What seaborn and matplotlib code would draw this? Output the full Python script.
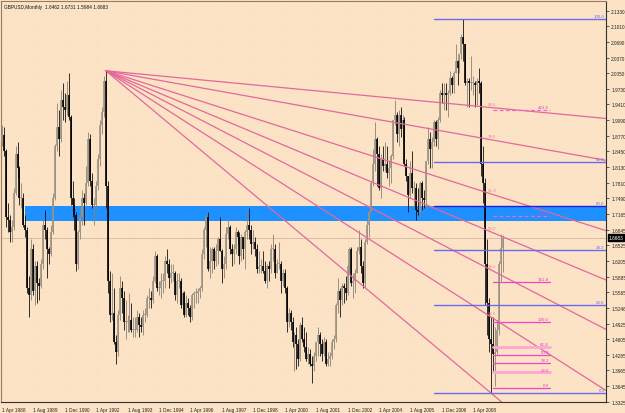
import numpy as np
import pandas as pd
import matplotlib
matplotlib.use("Agg")
import matplotlib.pyplot as plt
import seaborn as sns
from matplotlib.transforms import blended_transform_factory

# ---------------- data (GBPUSD monthly, Apr 1988 - Jul 2009) ----------------
months = pd.period_range("1988-04", "2009-07", freq="M")
first_open = 1.8650
closes = [
    1.8780, 1.8450, 1.7100, 1.7050, 1.6800, 1.6900, 1.7600, 1.8400, 1.8100,
    1.7500, 1.7500, 1.6950, 1.6850, 1.5650, 1.5500, 1.6450, 1.5600, 1.6100, 1.5750, 1.5700, 1.6150,
    1.6950, 1.6850, 1.6450, 1.6350, 1.6800, 1.7500, 1.8550, 1.8950, 1.8700, 1.9500, 1.9350, 1.9300,
    1.9600, 1.9150, 1.7500, 1.7350, 1.7150, 1.6150, 1.6800, 1.7100, 1.7500, 1.7400, 1.7800, 1.8700,
    1.7850, 1.7350, 1.7350, 1.7750, 1.8300, 1.9000, 1.9250, 1.9900, 1.7750, 1.5800, 1.5100, 1.5150,
    1.4550, 1.4350, 1.5100, 1.5650, 1.5450, 1.4950, 1.4950, 1.4950, 1.5000, 1.4800, 1.4800, 1.4800,
    1.5050, 1.4900, 1.4850, 1.5100, 1.5100, 1.5450, 1.5450, 1.5400, 1.5800, 1.6300, 1.5650, 1.5650,
    1.5800, 1.5800, 1.6200, 1.6150, 1.5850, 1.5950, 1.5950, 1.5500, 1.5800, 1.5800, 1.5300, 1.5550,
    1.5100, 1.5350, 1.5250, 1.5050, 1.5500, 1.5550, 1.5550, 1.5600, 1.5650, 1.6350, 1.6850, 1.7100,
    1.6050, 1.6200, 1.6450, 1.6200, 1.6400, 1.6650, 1.6400, 1.6050, 1.6150, 1.6750, 1.6900, 1.6450,
    1.6350, 1.6450, 1.6800, 1.6700, 1.6300, 1.6700, 1.6450, 1.6800, 1.6950, 1.6850, 1.6550, 1.6600,
    1.6450, 1.6050, 1.6100, 1.6100, 1.6000, 1.5800, 1.6100, 1.6050, 1.6450, 1.6450, 1.5950, 1.6150,
    1.6150, 1.5800, 1.5950, 1.5650, 1.4950, 1.5150, 1.4950, 1.4550, 1.4700, 1.4500, 1.4200, 1.4900,
    1.4600, 1.4450, 1.4200, 1.4300, 1.4100, 1.4050, 1.4250, 1.4550, 1.4700, 1.4500, 1.4300, 1.4550,
    1.4100, 1.4200, 1.4250, 1.4550, 1.4600, 1.5300, 1.5600, 1.5400, 1.5700, 1.5650, 1.5550, 1.6100,
    1.6450, 1.5750, 1.5800, 1.5950, 1.6400, 1.6500, 1.6100, 1.5750, 1.6600, 1.6950, 1.7200, 1.7800,
    1.8200, 1.8700, 1.8400, 1.7700, 1.8300, 1.8150, 1.8200, 1.8000, 1.8100, 1.8350, 1.9100, 1.9200,
    1.8800, 1.9200, 1.8900, 1.9100, 1.8200, 1.7950, 1.7550, 1.8000, 1.7700, 1.7700, 1.7250, 1.7200,
    1.7800, 1.7500, 1.7450, 1.8250, 1.8700, 1.8500, 1.8650, 1.9050, 1.8700, 1.9100, 1.9650, 1.9600,
    1.9650, 1.9600, 1.9650, 1.9950, 1.9800, 2.0050, 2.0300, 2.0150, 2.0450, 2.0800, 2.0650, 1.9850,
    1.9900, 1.9850, 1.9850, 1.9850, 1.9800, 1.9900, 1.9850, 1.8200, 1.7800, 1.6150, 1.5350, 1.4600,
    1.4500, 1.4300, 1.4350, 1.4800, 1.6150, 1.6462, 1.6683,
]
highs = [
    1.9000, 1.8950, 1.8500, 1.7400, 1.7150, 1.7050, 1.7700, 1.8550, 1.8650,
    1.8150, 1.7800, 1.7600, 1.7150, 1.6900, 1.5900, 1.6650, 1.6550, 1.6200, 1.6200, 1.5850, 1.6250,
    1.7050, 1.7250, 1.6900, 1.6500, 1.6950, 1.7600, 1.8600, 1.9450, 1.9300, 1.9700, 1.9850, 1.9650,
    1.9900, 2.0050, 1.9200, 1.7850, 1.7500, 1.7200, 1.6850, 1.7300, 1.7650, 1.7600, 1.8150, 1.8850,
    1.8800, 1.8000, 1.7500, 1.7850, 1.8400, 1.9100, 1.9350, 2.0000, 2.0100, 1.7850, 1.6000, 1.5950,
    1.5650, 1.4700, 1.5200, 1.5900, 1.5800, 1.5600, 1.5400, 1.5100, 1.5550, 1.5350, 1.5050, 1.5050,
    1.5200, 1.5150, 1.5050, 1.5200, 1.5250, 1.5500, 1.5650, 1.5600, 1.5900, 1.6400, 1.6350, 1.5800,
    1.5950, 1.5950, 1.6300, 1.6450, 1.6250, 1.6150, 1.6150, 1.6000, 1.5950, 1.5950, 1.5850, 1.5600,
    1.5600, 1.5500, 1.5450, 1.5300, 1.5550, 1.5600, 1.5650, 1.5650, 1.5700, 1.6450, 1.6900, 1.7150,
    1.7200, 1.6500, 1.6500, 1.6500, 1.6550, 1.6700, 1.7100, 1.6450, 1.6300, 1.6900, 1.7100, 1.6950,
    1.6550, 1.6550, 1.6900, 1.6850, 1.6800, 1.6750, 1.6650, 1.6850, 1.7200, 1.7300, 1.6950, 1.6850,
    1.6700, 1.6550, 1.6400, 1.6250, 1.6400, 1.6200, 1.6150, 1.6200, 1.6550, 1.6750, 1.6550, 1.6250,
    1.6600, 1.6200, 1.6050, 1.6050, 1.5700, 1.5250, 1.5200, 1.5050, 1.4750, 1.4850, 1.4600, 1.4950,
    1.5050, 1.4850, 1.4750, 1.4450, 1.4400, 1.4250, 1.4350, 1.4550, 1.4850, 1.4750, 1.4600, 1.4650,
    1.4600, 1.4350, 1.4350, 1.4600, 1.4700, 1.5350, 1.5850, 1.5650, 1.5750, 1.5750, 1.5900, 1.6150,
    1.6500, 1.6500, 1.5950, 1.6050, 1.6500, 1.6850, 1.6650, 1.6200, 1.6650, 1.7050, 1.7250, 1.7850,
    1.8500, 1.9050, 1.8750, 1.8550, 1.8400, 1.8550, 1.8650, 1.8550, 1.8250, 1.8400, 1.9100, 1.9500,
    1.9250, 1.9300, 1.9350, 1.9200, 1.9150, 1.8300, 1.7950, 1.8250, 1.8450, 1.7850, 1.7800, 1.7700,
    1.7850, 1.7850, 1.7650, 1.8250, 1.8950, 1.8850, 1.8750, 1.9100, 1.9100, 1.9150, 1.9700, 1.9850,
    1.9850, 1.9850, 1.9700, 2.0100, 2.0000, 2.0100, 2.0650, 2.0350, 2.0450, 2.0850, 2.1161, 2.0650,
    1.9950, 1.9950, 2.0400, 2.0000, 1.9900, 1.9950, 2.0150, 1.9900, 1.8550, 1.7900, 1.6650, 1.5450,
    1.5050, 1.5050, 1.4850, 1.5000, 1.6200, 1.6750, 1.6731,
]
lows = [
    1.8550, 1.8350, 1.6900, 1.6800, 1.6600, 1.6600, 1.6850, 1.7550, 1.7900,
    1.7350, 1.7300, 1.6900, 1.6700, 1.5550, 1.5050, 1.5400, 1.5500, 1.5300, 1.5350, 1.5400, 1.5650,
    1.6050, 1.6650, 1.5850, 1.6150, 1.6300, 1.6750, 1.7450, 1.8450, 1.8350, 1.8650, 1.9100, 1.9050,
    1.9200, 1.9100, 1.7350, 1.7100, 1.6850, 1.6000, 1.6050, 1.6650, 1.6950, 1.6950, 1.7350, 1.7750,
    1.7750, 1.7300, 1.6950, 1.7250, 1.7650, 1.8150, 1.8800, 1.9150, 1.7300, 1.5550, 1.4950, 1.5000,
    1.4500, 1.4100, 1.4250, 1.5000, 1.5150, 1.4800, 1.4600, 1.4750, 1.4750, 1.4750, 1.4650, 1.4650,
    1.4750, 1.4650, 1.4750, 1.4700, 1.4950, 1.5050, 1.5250, 1.5250, 1.5350, 1.5750, 1.5600, 1.5500,
    1.5450, 1.5550, 1.5650, 1.5950, 1.5650, 1.5750, 1.5800, 1.5400, 1.5350, 1.5650, 1.5250, 1.5200,
    1.5050, 1.5050, 1.5100, 1.4950, 1.5000, 1.5250, 1.5350, 1.5350, 1.5450, 1.5600, 1.6250, 1.6500,
    1.6000, 1.5850, 1.5950, 1.6050, 1.6100, 1.6150, 1.6400, 1.5750, 1.5850, 1.6050, 1.6650, 1.6350,
    1.6100, 1.6150, 1.6350, 1.6550, 1.6150, 1.6200, 1.6250, 1.6050, 1.6650, 1.6650, 1.6350, 1.6450,
    1.6300, 1.5950, 1.5950, 1.5950, 1.5950, 1.5750, 1.5650, 1.5800, 1.5950, 1.6200, 1.5850, 1.5950,
    1.6050, 1.5550, 1.5700, 1.5550, 1.4750, 1.4850, 1.4800, 1.4450, 1.3950, 1.4000, 1.4050, 1.4150,
    1.4550, 1.4350, 1.4150, 1.4100, 1.4050, 1.3700, 1.3950, 1.4150, 1.4250, 1.4250, 1.4150, 1.4250,
    1.4050, 1.4050, 1.4050, 1.4200, 1.4400, 1.4550, 1.5150, 1.5050, 1.5300, 1.5350, 1.5400, 1.5500,
    1.5950, 1.5700, 1.5450, 1.5550, 1.5950, 1.6350, 1.5950, 1.5650, 1.5650, 1.6550, 1.6700, 1.7150,
    1.7750, 1.8050, 1.7750, 1.7650, 1.7500, 1.8050, 1.8050, 1.7900, 1.7750, 1.7800, 1.8300, 1.9000,
    1.8650, 1.8550, 1.8750, 1.8650, 1.8150, 1.7850, 1.7200, 1.7500, 1.7600, 1.7300, 1.7050, 1.7150,
    1.7150, 1.7250, 1.7300, 1.7300, 1.8200, 1.8100, 1.8100, 1.8550, 1.8550, 1.8500, 1.9050, 1.9450,
    1.9300, 1.9300, 1.9150, 1.9600, 1.9650, 1.9650, 2.0050, 1.9800, 2.0050, 2.0350, 2.0300, 1.9800,
    1.9350, 1.9350, 1.9700, 1.9600, 1.9350, 1.9400, 1.9650, 1.7950, 1.7400, 1.5300, 1.4700, 1.4350,
    1.3503, 1.3950, 1.3650, 1.4300, 1.4700, 1.5800, 1.5984,
]

x_tick_labels = ["1 Apr 1988", "1 Aug 1989", "1 Dec 1990", "1 Apr 1992", "1 Aug 1993",
                 "1 Dec 1994", "1 Apr 1996", "1 Aug 1997", "1 Dec 1998", "1 Apr 2000",
                 "1 Aug 2001", "1 Dec 2002", "1 Apr 2004", "1 Aug 2005", "1 Dec 2006",
                 "1 Apr 2008"]
y_tick_labels = ["2.1330", "2.1010", "2.0690", "2.0370", "2.0050", "1.9730", "1.9410",
                 "1.9090", "1.8770", "1.8450", "1.8130", "1.7810", "1.7490", "1.7165",
                 "1.6845", "1.6525", "1.6205", "1.5885", "1.5565", "1.5246", "1.4925",
                 "1.4605", "1.4285", "1.3965", "1.3645", "1.3325"]

# Fibonacci fan: Sep 1992 high -> Jan 2009 low
fan_anchor = ("1992-09", 2.0100)
fan_target = ("2009-01", 1.3503)
fan_levels = [88.6, 78.6, 61.8, 50.0, 38.2, 23.6, 0.0]

# Fibonacci retracement (blue): Nov 2007 high -> Jan 2009 low
fib_high, fib_low = 2.1161, 1.3503
fib_levels = [0.0, 23.6, 38.2, 50.0, 61.8, 100.0]
fib_start = "2006-08"

# Fibonacci expansion (magenta)
pink_low, pink_high = 1.3605, 1.4950
pink_levels = [0.0, 23.6, 38.2, 50.0, 61.8, 100.0, 161.8, 261.8, 423.6]
pink_span_bars = (250, 279)

zone_low, zone_high = 1.7018, 1.7332
zone_start = "1989-04"
last_price = 1.6683
title = "GBPUSD,Monthly  1.6462 1.6731 1.5984 1.6683"

# ---------------- drawing ----------------
bg = "#FCE3C6"
sns.set_style("white")
plt.rcParams["font.family"] = ["Liberation Sans", "DejaVu Sans"]

fig = plt.figure(figsize=(6.25, 4.14), dpi=100, facecolor=bg)
ax = fig.add_axes([1.5 / 625, 11 / 414, 604.5 / 625, 401.5 / 414])
ax.set_facecolor(bg)

def bar_of(period_str):
    return months.get_loc(pd.Period(period_str, freq="M"))

n = len(closes)
idx = np.arange(n)
c = np.array(closes)
o = np.r_[first_open, c[:-1]]
h = np.maximum(np.array(highs), np.maximum(o, c))
l = np.minimum(np.array(lows), np.minimum(o, c))
up = c >= o

x_lo, x_hi = -0.15, 307.6
y_lo, y_hi = 1.3318, 2.1539
ax.set_xlim(x_lo, x_hi)
ax.set_ylim(y_lo, y_hi)

# support/resistance zone
zs = bar_of(zone_start)
ax.fill_between([zs, x_hi], zone_low, zone_high, color="#1E90FF", lw=0, zorder=1)

# last price line
ax.axhline(last_price, color="#D9BBA8", lw=0.7, zorder=1.5)

# candles
ax.vlines(idx[up], l[up], h[up], color="#8a8276", lw=0.6, zorder=3)
ax.vlines(idx[~up], l[~up], h[~up], color="#111111", lw=0.6, zorder=3)
bl = np.minimum(o, c)
bh = np.maximum(np.maximum(o, c), bl + 0.002)
ax.vlines(idx[up], bl[up], bh[up], color="#9c9484", lw=1.2, zorder=3.1)
ax.vlines(idx[~up], bl[~up], bh[~up], color="#000000", lw=1.2, zorder=3.1)

# Fibonacci fan lines
i1, p1 = bar_of(fan_anchor[0]), fan_anchor[1]
i2, p2 = bar_of(fan_target[0]), fan_target[1]
fan_color = "#E4679A"
for lev in fan_levels:
    pt = p2 + (p1 - p2) * lev / 100.0
    pend = p1 + (pt - p1) * (x_hi - i1) / (i2 - i1)
    sns.lineplot(x=[i1, x_hi], y=[p1, pend], ax=ax, color=fan_color, lw=0.9, zorder=4)
    if lev > 0:
        ax.text(i2 + 0.5, pt + 0.004, f"{lev:.1f}", color="#E884A8", fontsize=3.2,
                ha="center", va="bottom", zorder=6)

# Blue Fibonacci retracement
fs = bar_of(fib_start)
blue = "#6A6AF0"
for lev in fib_levels:
    p = fib_low + (fib_high - fib_low) * lev / 100.0
    col = "#2020E0" if lev == 50.0 else blue
    ln, = ax.plot([fs, x_hi], [p, p], color=col, lw=1.0, zorder=4.5)
    ln.set_snap(True)
    ax.text(x_hi - 0.8, p + 0.002, f"{lev:.1f}", color=blue, fontsize=3.2,
            ha="right", va="bottom", zorder=6)

# Magenta Fibonacci expansion
a, b = pink_span_bars
for lev in pink_levels:
    p = pink_low + (pink_high - pink_low) * lev / 100.0
    if lev in (23.6, 61.8):
        kw = dict(color="#FFA6D6", lw=2.0)
    elif lev in (261.8, 423.6):
        kw = dict(color="#EE66C8", lw=0.9, ls=(0, (3, 2)))
    else:
        kw = dict(color="#EE44CC", lw=0.9)
    ln, = ax.plot([a, b], [p, p], zorder=5, **kw)
    ln.set_snap(True)
    ax.text(b - 0.5, p + 0.002, f"{lev:.1f}", color="#E040C0", fontsize=3.2,
            ha="right", va="bottom", zorder=6)

# axes styling
ax.yaxis.tick_right()
ax.set_yticks([float(t) for t in y_tick_labels])
ax.set_yticklabels(y_tick_labels)
ax.set_xticks(np.arange(len(x_tick_labels)) * 16)
ax.set_xticklabels(x_tick_labels, ha="left")
ax.tick_params(axis="y", direction="out", length=2.5, width=0.5, pad=1.2,
               labelsize=3.4, colors="#222222")
ax.tick_params(axis="x", direction="out", length=2.5, width=0.5, pad=1.0,
               labelsize=3.4, colors="#222222")
ax.grid(True, color="#EDD2B4", lw=0.4, ls=(0, (1, 4)), zorder=0.5)
ax.set_xlabel("")
ax.set_ylabel("")
for side in ["left", "top"]:
    ax.spines[side].set_color("#9a7a62")
    ax.spines[side].set_linewidth(0.8)
for side in ["right", "bottom"]:
    ax.spines[side].set_color("#303030")
    ax.spines[side].set_linewidth(0.8)

# current price tag
tr = blended_transform_factory(ax.transAxes, ax.transData)
ax.text(1.004, last_price, f"{last_price:.4f}", transform=tr, fontsize=3.4,
        color="white", ha="left", va="center", zorder=7, clip_on=False,
        bbox=dict(boxstyle="square,pad=0.15", fc="black", ec="black"))

ax.text(0.004, 0.992, title, transform=ax.transAxes, fontsize=3.4, color="#111111",
        ha="left", va="top", zorder=7)

fig.savefig("out.png", dpi=100, facecolor=bg)
